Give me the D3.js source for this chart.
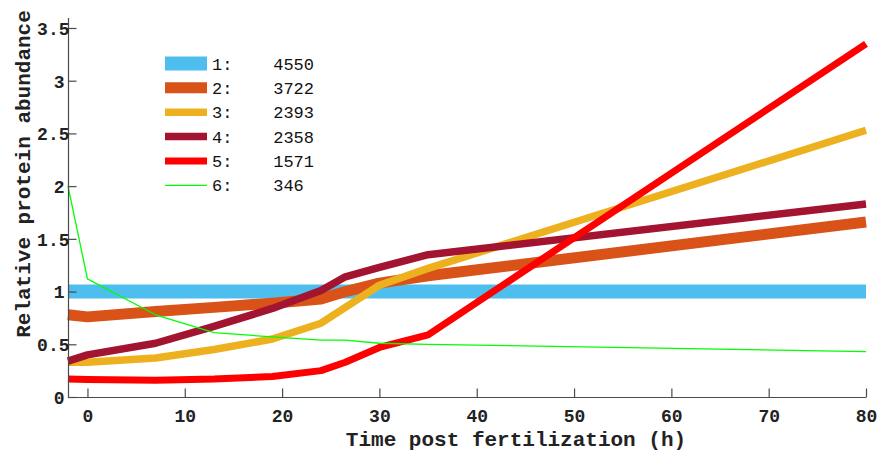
<!DOCTYPE html>
<html>
<head>
<meta charset="utf-8">
<script src="https://cdn.jsdelivr.net/npm/d3@7"></script>
<style>
  html, body { margin: 0; padding: 0; background: #fff; }
  svg { display: block; }
</style>
</head>
<body>
<svg id="chart" width="882" height="452"></svg>
<script>
// ---- data ----
const times = [-2, 0, 7, 13, 19, 24, 26.5, 30, 35, 80];
const cluster1 = [1, 1, 1, 1, 1, 1, 1, 1, 1, 1];
const cluster2 = [0.78, 0.76, 0.81, 0.85, 0.89, 0.93, 1.00, 1.08, 1.15, 1.66];
const cluster3 = [0.33, 0.33, 0.37, 0.45, 0.55, 0.70, 0.85, 1.06, 1.22, 2.53];
const cluster4 = [0.34, 0.40, 0.51, 0.67, 0.84, 1.01, 1.14, 1.23, 1.35, 1.83];
const cluster5 = [0.17, 0.165, 0.16, 0.17, 0.195, 0.25, 0.33, 0.47, 0.59, 3.35];
const cluster6 = [2.0, 1.12, 0.78, 0.61, 0.57, 0.54, 0.54, 0.51, 0.50, 0.43];
const legendIds = ["1:", "2:", "3:", "4:", "5:", "6:"];
const legendCounts = ["4550", "3722", "2393", "2358", "1571", "346"];
const xTicks = [0, 10, 20, 30, 40, 50, 60, 70, 80];
const yTicks = [0, 0.5, 1, 1.5, 2, 2.5, 3, 3.5];
const xLabel = "Time post fertilization (h)";
const yLabel = "Relative protein abundance";

// ---- styling ----
const colors = ["#4DBEEE", "#D95319", "#EDB120", "#A2142F", "#FF0000", "#00FF00"];
const widths = [14, 11, 7.5, 7.5, 7, 1.3];
const series = [cluster1, cluster2, cluster3, cluster4, cluster5, cluster6];

const svg = d3.select("#chart");
const x = d3.scaleLinear().domain([-2, 80]).range([68, 866]);
const y = d3.scaleLinear().domain([0, 3.6]).range([397, 17.45]);
const axisColor = "#4a4a4a";
const tickFont = "'Liberation Mono', 'Courier New', monospace";

// lines
const line = d3.line().x((d, i) => x(times[i])).y(d => y(d));
series.forEach((s, k) => {
  svg.append("path")
    .datum(s)
    .attr("d", line)
    .attr("fill", "none")
    .attr("stroke", colors[k])
    .attr("stroke-width", widths[k])
    .attr("stroke-linejoin", "round")
    .attr("stroke-linecap", "butt");
});

// x axis
const gx = svg.append("g").attr("transform", `translate(0,${y(0)})`)
  .call(d3.axisBottom(x).tickValues(xTicks).tickSize(-8.5).tickSizeOuter(0).tickPadding(14));
gx.select(".domain").attr("stroke", axisColor).attr("stroke-width", 1.2);
gx.selectAll(".tick line").attr("stroke", axisColor).attr("stroke-width", 1.2);
gx.selectAll(".tick text")
  .attr("font-family", tickFont).attr("font-weight", "bold").attr("font-size", 18)
  .attr("fill", "#222").attr("y", 25).attr("dy", 0);

// y axis
const gy = svg.append("g").attr("transform", `translate(${x(-2)},0)`)
  .call(d3.axisLeft(y).tickValues(yTicks).tickSize(-8.5).tickSizeOuter(0)
    .tickFormat(d => String(d)));
gy.select(".domain").attr("stroke", axisColor).attr("stroke-width", 1.2);
gy.selectAll(".tick line").attr("stroke", axisColor).attr("stroke-width", 1.2);
gy.selectAll(".tick text")
  .attr("font-family", tickFont).attr("font-weight", "bold").attr("font-size", 18)
  .attr("fill", "#222").attr("text-anchor", "end")
  .attr("x", d => (Number.isInteger(d) ? -3.5 : 1.5))
  .attr("dy", "0.35em");

// axis titles
svg.append("text")
  .attr("x", 516).attr("y", 446)
  .attr("text-anchor", "middle")
  .attr("font-family", tickFont).attr("font-weight", "bold").attr("font-size", 21)
  .attr("fill", "#222")
  .text(xLabel);
svg.append("text")
  .attr("transform", "translate(30,174) rotate(-90)")
  .attr("text-anchor", "middle")
  .attr("font-family", tickFont).attr("font-weight", "bold").attr("font-size", 21)
  .attr("fill", "#222")
  .text(yLabel);

// legend
const legendY = d3.scaleLinear().domain([0, 5]).range([63.5, 185.3]);
const lg = svg.append("g");
legendIds.forEach((id, k) => {
  const yy = legendY(k);
  lg.append("line")
    .attr("x1", 165).attr("x2", 207).attr("y1", yy).attr("y2", yy)
    .attr("stroke", colors[k]).attr("stroke-width", widths[k]);
  lg.append("text")
    .attr("x", 212).attr("y", yy).attr("dy", "0.36em")
    .attr("font-family", tickFont).attr("font-size", 17)
    .attr("fill", "#111")
    .attr("xml:space", "preserve")
    .style("white-space", "pre")
    .text(id + "    " + legendCounts[k]);
});
</script>
</body>
</html>
